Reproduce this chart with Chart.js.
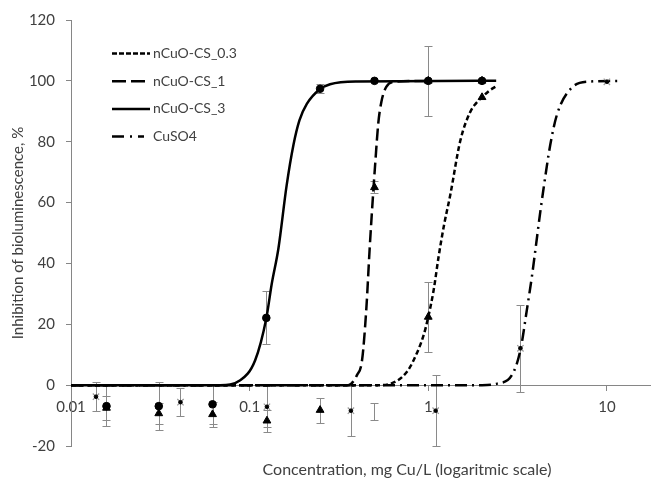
<!DOCTYPE html>
<html>
<head>
<meta charset="utf-8">
<script src="https://cdn.jsdelivr.net/npm/chart.js@4.4.1/dist/chart.umd.min.js"></script>
<style>
  html, body { margin: 0; padding: 0; background: #fff; }
  #wrap { width: 656px; height: 485px; }
</style>
</head>
<body>
<div id="wrap"><canvas id="toxChart"></canvas></div>
<script>
// tick labels
const xTicks = [0.01, 0.1, 1, 10];
const yTicks = [-20, 0, 20, 40, 60, 80, 100, 120];

// measured points (mean, +/- error)
const cs3X = [0.0158, 0.031, 0.062, 0.124, 0.248, 0.5, 1, 2];
const cs3Y = [-6.9, -6.9, -6.3, 22.1, 97.4, 100, 100, 100];
const cs3Err = [6.5, 7.8, 6.4, 8.7, 1.5, 0, 0, 0];

const cs1X = [0.0158, 0.031, 0.062, 0.125, 0.248, 0.5, 1, 2];
const cs1Y = [-7.5, -9.3, -9.6, -11.7, -8.2, 65, 100, 100];
const cs1Err = [3.8, 3.5, 4.0, 3.6, 4.1, 2, 11.5, 0];

const cs03X = [0.494, 1, 2];
const cs03Y = [-8.6, 22.4, 94.6];
const cs03Err = [2.8, 11.5, 0];

const cuX = [0.0138, 0.041, 0.125, 0.369, 1.1, 3.28, 10];
const cuY = [-3.8, -5.6, -7.1, -8.4, -8.4, 12.1, 99.7];
const cuErr = [4.8, 4.6, 6.8, 8.2, 11.7, 14.4, 0];

// fitted curves
const fit03X = [0.01, 0.538, 0.668, 0.760, 0.828, 0.942, 1.0, 1.071, 1.142, 1.219, 1.328, 1.511, 1.718, 1.85, 2.0, 2.2, 2.40];
const fit03Y = [0, 0, 1.4, 4.4, 8.2, 16.4, 22.4, 31.1, 42.1, 51.9, 62.5, 80.3, 89.8, 92.6, 94.6, 96.8, 98.2];

const fit1X = [0.01, 0.356, 0.399, 0.426, 0.450, 0.470, 0.494, 0.505, 0.525, 0.546, 0.582, 0.653, 1.0];
const fit1Y = [0, 0, 3.3, 8.2, 25, 45, 65, 73, 86, 93, 98, 99.7, 100];

const fit3X = [0.01, 0.0684, 0.0886, 0.1074, 0.124, 0.133, 0.145, 0.161, 0.176, 0.19, 0.209, 0.248, 0.282, 0.4, 2.4];
const fit3Y = [0, 0, 1.6, 8.2, 22, 33.3, 45, 65.5, 79, 87, 92.4, 97.3, 98.9, 99.8, 100];

const fitCuX = [0.01, 2.0, 2.43, 2.94, 3.28, 3.57, 3.81, 3.97, 4.24, 4.43, 4.82, 5.26, 6.25, 7.74, 11.9];
const fitCuY = [0, 0, 0.5, 3.3, 11.5, 25, 36, 44, 57, 65, 79, 89, 97.3, 99.7, 100];

const pts = (xs, ys) => xs.map((x, i) => ({ x: x, y: ys[i] }));

const textColor = '#404040';
const axisColor = '#868686';
const tickFont = { family: 'Lato', size: 15 };

// error bars drawn from each dataset's "errors" list
const errorBarPlugin = {
    id: 'errorBars',
    beforeDatasetsDraw(chart) {
        const ctx = chart.ctx;
        const xs = chart.scales.x, ys = chart.scales.y;
        ctx.save();
        ctx.strokeStyle = '#8a8a8a';
        ctx.lineWidth = 1;
        chart.data.datasets.forEach(d => {
            if (!d.errors) return;
            d.data.forEach((p, i) => {
                const e = d.errors[i];
                if (!e) return;
                const px = Math.round(xs.getPixelForValue(p.x)) + 0.5;
                const top = Math.round(ys.getPixelForValue(p.y + e)) + 0.5;
                const bot = Math.round(ys.getPixelForValue(p.y - e)) + 0.5;
                ctx.beginPath();
                ctx.moveTo(px, top); ctx.lineTo(px, bot);
                ctx.moveTo(px - 4, top); ctx.lineTo(px + 4, top);
                ctx.moveTo(px - 4, bot); ctx.lineTo(px + 4, bot);
                ctx.stroke();
            });
        });
        ctx.restore();
    }
};

// legend inside the plot (upper left) and the x axis title
const legendPlugin = {
    id: 'insideLegend',
    afterDraw(chart) {
        const ctx = chart.ctx;
        const area = chart.chartArea;
        const curves = chart.data.datasets.filter(d => d.inLegend);
        ctx.save();
        curves.forEach((d, i) => {
            const y = 53.5 + i * 27.7;
            ctx.beginPath();
            ctx.setLineDash(d.legendDash || []);
            ctx.lineWidth = d.borderWidth;
            ctx.strokeStyle = d.borderColor;
            ctx.moveTo(area.left + 41, y);
            ctx.lineTo(area.left + 79, y);
            ctx.stroke();
            ctx.setLineDash([]);
            ctx.fillStyle = textColor;
            ctx.font = '14px Lato';
            ctx.textBaseline = 'middle';
            ctx.fillText(d.label, area.left + 82, y);
        });
        ctx.font = '16px Lato';
        ctx.textAlign = 'center';
        ctx.textBaseline = 'middle';
        ctx.fillStyle = textColor;
        ctx.fillText('Concentration, mg Cu/L (logaritmic scale)', area.left + 336, area.bottom + 24);
        ctx.restore();
    }
};

const curve = (label, xs, ys, dash, legendDash) => ({
    label: label,
    data: pts(xs, ys),
    showLine: true,
    inLegend: true,
    borderColor: '#000',
    borderWidth: 2.5,
    borderDash: dash,
    legendDash: legendDash,
    cubicInterpolationMode: 'monotone',
    pointRadius: 0,
    pointHoverRadius: 0
});

const ctx = document.getElementById('toxChart').getContext('2d');
new Chart(ctx, {
    type: 'scatter',
    data: {
        datasets: [
            { data: pts(cs3X, cs3Y), errors: cs3Err, pointStyle: 'circle', pointRadius: 3.8, backgroundColor: '#000', borderColor: '#000' },
            { data: pts(cs1X, cs1Y), errors: cs1Err, pointStyle: 'triangle', pointRadius: 4.5, backgroundColor: '#000', borderColor: '#000' },
            { data: pts(cs03X, cs03Y), errors: cs03Err, pointStyle: 'triangle', pointRadius: [0, 4.5, 4.5], backgroundColor: '#000', borderColor: '#000' },
            { data: pts(cuX, cuY), pointStyle: 'circle', pointRadius: 1.8, backgroundColor: '#000', borderColor: '#000' },
            { data: pts(cuX, cuY), errors: cuErr, pointStyle: 'crossRot', pointRadius: 4.5, borderWidth: 1.2, borderColor: '#9a9a9a' },
            curve('nCuO-CS_0.3', fit03X, fit03Y, [5, 3], [5, 2]),
            curve('nCuO-CS_1', fit1X, fit1Y, [12, 5], [14, 5]),
            curve('nCuO-CS_3', fit3X, fit3Y, [], []),
            curve('CuSO4', fitCuX, fitCuY, [12, 5, 2, 5], [12, 6, 2, 6, 6])
        ]
    },
    options: {
        responsive: true,
        maintainAspectRatio: false,
        animation: false,
        layout: { padding: { top: 20, right: 0, left: 0, bottom: 39 } },
        plugins: {
            legend: { display: false },
            tooltip: { enabled: false }
        },
        scales: {
            x: {
                type: 'logarithmic',
                position: { y: 0 },
                min: 0.01,
                max: 17.5,
                afterBuildTicks: s => { s.ticks = xTicks.map(v => ({ value: v })); },
                afterFit: s => { s.height = 0; },
                ticks: {
                    autoSkip: false, maxRotation: 0, padding: 8,
                    color: textColor, font: tickFont,
                    callback: v => String(v)
                },
                grid: { drawOnChartArea: false, tickLength: 5, color: axisColor },
                border: { color: axisColor }
            },
            y: {
                min: -20,
                max: 120,
                afterBuildTicks: s => { s.ticks = yTicks.map(v => ({ value: v })); },
                afterFit: s => { s.width = 71; },
                ticks: { padding: 11, color: textColor, font: tickFont },
                grid: { drawOnChartArea: false, tickLength: 5, color: axisColor },
                border: { color: axisColor },
                title: {
                    display: true,
                    text: 'Inhibition of bioluminescence, %',
                    color: textColor,
                    font: { family: 'Lato', size: 15 },
                    padding: { top: 9, bottom: 0 }
                }
            }
        }
    },
    plugins: [errorBarPlugin, legendPlugin]
});
</script>
</body>
</html>
